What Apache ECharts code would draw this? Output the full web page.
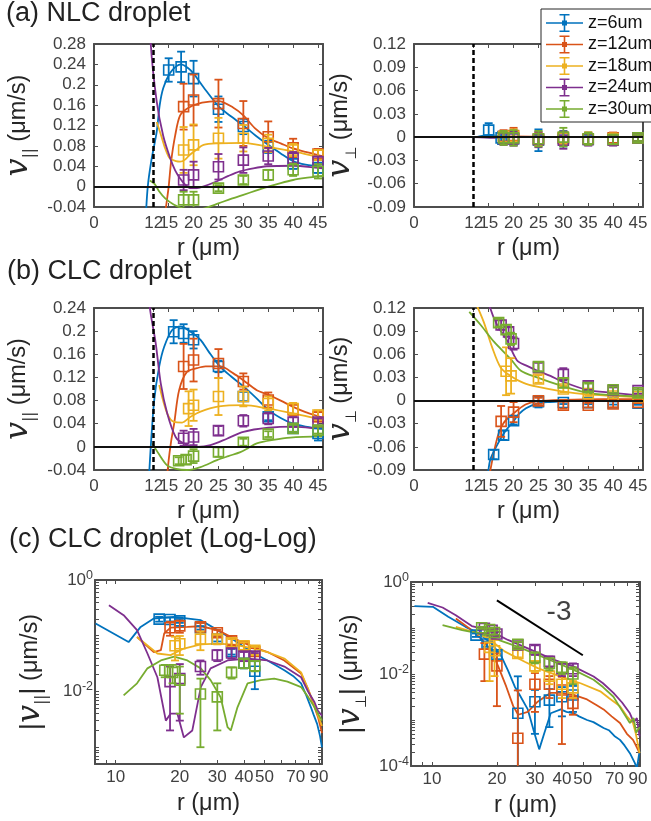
<!DOCTYPE html>
<html><head><meta charset="utf-8">
<script src="https://cdn.jsdelivr.net/npm/echarts@6/dist/echarts.min.js"></script>
<style>html,body{margin:0;padding:0;background:#fff}#c{width:651px;height:821px}</style>
</head><body><div id="c"></div>
<script>
// ---------------- DATA ----------------
const seriesNames = ['z=6um','z=12um','z=18um','z=24um','z=30um'];
const seriesColors = ['#0072BD','#D95319','#EDB120','#7E2F8E','#77AC30'];
const dropletRadius = 12;

// tick labels
const linXTicks = [0,12,15,20,25,30,35,40,45];
const parTicksA = [-0.04,0,0.04,0.08,0.12,0.16,0.2,0.24,0.28];
const parTicksB = [-0.04,0,0.04,0.08,0.12,0.16,0.2,0.24];
const perpTicks = [-0.09,-0.06,-0.03,0,0.03,0.06,0.09,0.12];
const logXLabels = [10,20,30,40,50,70,90];
const logXTicks = [9,10,20,30,40,50,60,70,80,90];
const logYLabelsL = [0.01,1];
const logYLabelsR = [0.0001,0.01,1];

// (a) NLC droplet, v_par measured points (r, value, error) per z
const nlcParR = [[15,17.5,20,25,30,35,40,45],[18,20,25,30,35,40,45],[18,20,25,30,35,40,45],[18,20,25,30,35,40,45],[18,20,25,30,35,40,45]];
const nlcParV = [
  [0.229,0.235,0.212,0.152,0.118,0.078,0.045,0.037],
  [0.157,0.170,0.163,0.124,0.098,0.076,0.064],
  [0.072,0.082,0.095,0.095,0.085,0.072,0.062],
  [0.013,0.023,0.039,0.052,0.060,0.056,0.049],
  [-0.026,-0.026,-0.003,0.013,0.023,0.033,0.030]];
const nlcParE = [
  [0.023,0.030,0.035,0.025,0.015,0.012,0.010,0.010],
  [0.045,0.050,0.047,0.044,0.030,0.018,0.010],
  [0.045,0.040,0.040,0.026,0.017,0.012,0.010],
  [0.020,0.026,0.025,0.025,0.016,0.012,0.010],
  [0.016,0.016,0.006,0.008,0.010,0.012,0.014]];
// (a) NLC v_perp
const nlcPerpR = nlcParR;
const nlcPerpV = [
  [0.009,-0.001,-0.002,-0.004,-0.002,-0.003,-0.002,-0.001],
  [0.001,0.002,-0.002,-0.001,-0.002,-0.001,-0.001],
  [0.000,0.001,-0.003,-0.001,-0.002,-0.002,-0.001],
  [-0.002,-0.002,-0.003,-0.004,-0.003,-0.004,-0.001],
  [-0.001,-0.001,-0.002,0.000,-0.002,-0.003,-0.001]];
const nlcPerpE = [
  [0.009,0.008,0.008,0.014,0.010,0.006,0.006,0.004],
  [0.008,0.010,0.008,0.008,0.008,0.007,0.004],
  [0.008,0.009,0.008,0.008,0.008,0.007,0.004],
  [0.008,0.009,0.010,0.011,0.008,0.007,0.004],
  [0.009,0.010,0.010,0.012,0.008,0.006,0.004]];
// (b) CLC droplet v_par
const clcParR = [[16,18,20,25,30,35,40,45],[18,20,25,30,35,40,45],[19,20,25,30,35,40,45],[18,20,25,30,35,40,45],[17,18.5,20,25,30,35,40,45]];
const clcParV = [
  [0.199,0.196,0.185,0.139,0.087,0.052,0.032,0.023],
  [0.139,0.150,0.144,0.113,0.081,0.064,0.052],
  [0.066,0.072,0.087,0.087,0.075,0.066,0.055],
  [0.015,0.017,0.028,0.045,0.049,0.043,0.043],
  [-0.024,-0.022,-0.016,-0.009,0.008,0.022,0.032,0.029]];
const clcParE = [
  [0.020,0.016,0.015,0.010,0.008,0.006,0.006,0.012],
  [0.039,0.037,0.025,0.014,0.013,0.010,0.008],
  [0.030,0.027,0.032,0.017,0.012,0.010,0.008],
  [0.013,0.014,0.008,0.010,0.010,0.008,0.006],
  [0.006,0.008,0.012,0.008,0.006,0.005,0.006,0.006]];
// (b) CLC droplet v_perp
const clcPerpR = [[16,18,20,25,30,35,40,45],[17.5,20,25,30,35,40,45],[18.5,19.5,25,30,35,40,45],[17.5,19,20,25,30,35,40,45],[17,18.5,19.5,25,30,35,40,45]];
const clcPerpV = [
  [-0.070,-0.045,-0.026,-0.0014,-0.0025,-0.0027,-0.0032,-0.0035],
  [-0.027,-0.015,-0.0004,-0.006,-0.006,-0.0045,-0.0023],
  [0.038,0.032,0.028,0.015,0.009,0.006,0.005],
  [0.098,0.089,0.074,0.043,0.034,0.019,0.013,0.013],
  [0.101,0.092,0.080,0.044,0.023,0.017,0.014,0.010]];
const clcPerpE = [
  [0.006,0.006,0.005,0.0075,0.002,0.002,0.002,0.002],
  [0.020,0.013,0.004,0.0045,0.003,0.0042,0.001],
  [0.031,0.023,0.005,0.004,0.003,0.003,0.002],
  [0.006,0.006,0.008,0.006,0.008,0.005,0.004,0.004],
  [0.005,0.006,0.008,0.006,0.006,0.005,0.004,0.004]];

// simulation curves [r, v]
const nlcParSim = [
  [[10.4,-0.06],[10.8,0],[11.5,0.05],[12.6,0.108],[13.2,0.16],[13.9,0.193],[15.2,0.222],[16.5,0.236],[17.5,0.24],[19,0.232],[20,0.222],[22,0.195],[25,0.158],[27.5,0.138],[30,0.12],[32.5,0.1],[35,0.082],[37.5,0.065],[40,0.05],[42.5,0.043],[45,0.04],[46,0.038]],
  [[14.2,-0.06],[14.6,-0.03],[15,0],[15.5,0.05],[16.3,0.1],[17.3,0.14],[19,0.155],[21.7,0.165],[25,0.168],[28,0.155],[30,0.14],[32.3,0.115],[35,0.095],[37.5,0.085],[40,0.075],[42.5,0.068],[45,0.062],[46,0.06]],
  [[12.6,0.127],[13.5,0.1],[14.3,0.075],[15.2,0.056],[16.5,0.05],[17.3,0.049],[18.3,0.053],[19.2,0.062],[20.5,0.072],[22,0.082],[25,0.085],[30,0.086],[35,0.078],[40,0.069],[45,0.059],[46,0.058]],
  [[11.1,0.4],[11.4,0.28],[12.6,0.167],[13.9,0.1],[15.3,0.056],[16.3,0.032],[17.3,0.016],[18.3,0.004],[19.3,-0.003],[20.5,-0.003],[21.9,0],[24.6,0.01],[27,0.021],[29.3,0.03],[32,0.036],[34.7,0.04],[40,0.041],[45,0.037],[46,0.036]],
  [[11.2,0.012],[12.2,0.005],[13,-0.008],[14.3,-0.023],[16,-0.035],[17.7,-0.042],[20,-0.045],[22,-0.043],[25,-0.033],[27.5,-0.024],[30,-0.016],[32.5,-0.008],[35,0],[37.5,0.007],[40,0.013],[42.5,0.017],[45,0.02],[46,0.021]]];
const nlcPerpSim = [
  [[12.5,0],[14,0.002],[15.5,0.003],[17,0.001],[20,0],[30,0],[46,0]],
  [[15,0],[17,0.001],[20,0.001],[30,0],[46,0]],
  [[13,0],[16,0.001],[20,0],[46,0]],
  [[12,0],[16,-0.001],[20,0],[46,0]],
  [[12,0],[16,0.001],[20,0],[46,0]]];
const clcParSim = [
  [[11,-0.06],[11.4,0],[12.1,0.081],[13.1,0.139],[14.1,0.173],[15.7,0.202],[17.4,0.208],[19.4,0.199],[21.4,0.185],[23,0.165],[25.1,0.141],[27.5,0.122],[30.1,0.104],[32.5,0.085],[35,0.064],[37.5,0.05],[40,0.04],[42.5,0.035],[45,0.032],[46,0.031]],
  [[14.6,-0.06],[15,-0.023],[15.5,0.01],[16.1,0.04],[17.1,0.098],[18.7,0.13],[20.7,0.136],[22.4,0.139],[25.4,0.139],[28,0.127],[30,0.115],[32.7,0.098],[35,0.09],[37.5,0.08],[40,0.069],[42.5,0.06],[45.4,0.052],[46,0.05]],
  [[13.1,0.107],[14.7,0.058],[16.1,0.043],[17.7,0.042],[19.4,0.052],[21.4,0.061],[25.1,0.07],[30.1,0.072],[35,0.066],[40,0.058],[45,0.049],[46,0.048]],
  [[10.9,0.3],[11.2,0.242],[12.4,0.179],[13.4,0.11],[14.7,0.058],[16.4,0.017],[18,0.006],[20.7,0],[23.4,0.003],[26.7,0.014],[30,0.026],[35,0.033],[40,0.035],[45,0.032],[46,0.032]],
  [[11.7,0.006],[13,-0.012],[14.7,-0.032],[16.5,-0.038],[18.7,-0.04],[21.4,-0.035],[24.7,-0.023],[27,-0.016],[29.4,-0.009],[31,-0.002],[32.7,0.006],[36,0.012],[39.4,0.016],[46,0.018]]];
const clcPerpSim = [
  [[14.8,-0.1],[15.3,-0.077],[16.5,-0.06],[18.3,-0.04],[20.1,-0.026],[21,-0.018],[22.5,-0.01],[24.7,-0.004],[27,-0.002],[30,-0.001],[35,0.001],[46,0.001]],
  [[15.2,-0.095],[16.7,-0.049],[18,-0.029],[20.1,-0.016],[22.4,-0.005],[24.7,-0.001],[30,0.001],[38,0.002],[46,0.002]],
  [[12.5,0.125],[14,0.102],[15.7,0.069],[17.4,0.043],[19.4,0.032],[22,0.023],[24.7,0.018],[29.7,0.012],[34.7,0.008],[40,0.006],[46,0.004]],
  [[14.8,0.14],[15.1,0.124],[16.7,0.098],[18.7,0.078],[20.7,0.052],[22.7,0.045],[24.7,0.039],[27.4,0.032],[29.7,0.025],[34.7,0.014],[40,0.01],[46,0.006]],
  [[11.1,0.115],[13.4,0.098],[16.1,0.076],[19.4,0.054],[21.4,0.039],[24.7,0.03],[29.7,0.019],[34.7,0.01],[40,0.007],[46,0.005]]];
// (c) log-log curves |v|
const clcParLogSim = [
  [[8.05,0.166],[11.5,0.077],[13.1,0.144],[15.1,0.204],[18.8,0.218],[25.1,0.19],[30.1,0.126],[36,0.083],[44.7,0.048],[51.6,0.036],[61.9,0.024],[68,0.019],[74.2,0.014],[78,0.009],[82.5,0.0052],[85,0.0038],[88.3,0.0026],[91,0.0016],[93,0.00099]],
  [[12.6,0.095],[15.1,0.051],[16.3,0.055],[16.9,0.11],[18.1,0.14],[21.7,0.144],[25.1,0.148],[30.1,0.126],[36,0.089],[44.7,0.062],[51.6,0.051],[61.9,0.036],[74.2,0.021],[80,0.011],[85.8,0.0052],[89,0.0035],[93,0.0018]],
  [[12.6,0.095],[15.7,0.048],[18.1,0.045],[20.9,0.059],[25.1,0.07],[30.1,0.072],[36,0.069],[44.7,0.059],[51.6,0.051],[61.9,0.039],[74.2,0.022],[80,0.011],[85.8,0.0056],[89,0.0037],[93,0.0024]],
  [[9.3,0.354],[10.9,0.234],[12.6,0.126],[14.1,0.048],[15.7,0.018],[17.2,0.003],[18.1,0.004],[19.5,0.004],[20.9,0.0015],[22.9,0.002],[25.1,0.012],[27.9,0.026],[33.5,0.036],[41.6,0.039],[51.6,0.036],[61.9,0.028],[74.2,0.018],[80,0.01],[85.8,0.0064],[89,0.0045],[93,0.0037]],
  [[10.9,0.0085],[12.6,0.014],[14.1,0.026],[16.3,0.036],[18.8,0.042],[21.7,0.036],[25.1,0.026],[27.9,0.016],[31.1,0.0079],[33.5,0.0023],[34.7,0.002],[37.3,0.0052],[41.6,0.014],[48,0.016],[55.5,0.017],[64,0.015],[74.2,0.012],[80,0.008],[85.8,0.0052],[89,0.004],[93,0.003]]];
const clcPerpLogSim = [
  [[8.3,0.298],[10.1,0.288],[11.9,0.175],[14.3,0.106],[16.5,0.076],[18.9,0.046],[21,0.024],[22.5,0.012],[24.2,0.0053],[25.5,0.0035],[27.8,0.0017],[29.8,0.00053],[31.4,0.00023],[33.2,0.00053],[35.5,0.0014],[39.5,0.0017],[42,0.0015],[45.4,0.0014],[48,0.0012],[52.3,0.001],[56,0.0009],[62.4,0.00067],[66,0.0006],[70,0.00045],[74.3,0.00037],[78,0.00028],[82.6,0.00019],[86.8,0.00012],[89,0.00009],[91.6,0.00021]],
  [[12.9,0.161],[15.3,0.09],[17.1,0.055],[18.9,0.031],[20.3,0.0145],[22.1,0.0053],[23.8,0.002],[25.1,0.0013],[27.8,0.0015],[30.9,0.0025],[35.5,0.0039],[39.5,0.0039],[45.4,0.0035],[52.3,0.0028],[58,0.0021],[62.4,0.0017],[68,0.0012],[74.3,0.00086],[80,0.0005],[85.4,0.00037],[88,0.00028],[91.6,0.00019]],
  [[12.9,0.106],[15.3,0.083],[18.3,0.059],[21.7,0.031],[26.9,0.0185],[30.9,0.0134],[39.5,0.0088],[48.8,0.0063],[60.2,0.0042],[66,0.003],[74.3,0.002],[80,0.0012],[85.4,0.00086],[88,0.0005],[91.6,0.00019]],
  [[9.56,0.351],[11.2,0.279],[12.9,0.19],[15.3,0.11],[18.3,0.09],[22.5,0.055],[27.8,0.036],[36.8,0.0203],[45.4,0.0145],[56.1,0.0088],[62,0.0063],[69.3,0.0039],[76,0.0024],[82.6,0.0014],[86,0.0009],[89,0.0011],[91.6,0.00044]],
  [[11.2,0.116],[13.8,0.09],[16.5,0.076],[20.3,0.055],[25.1,0.039],[30.9,0.026],[36.8,0.0185],[45.4,0.0123],[56.1,0.0075],[62,0.0052],[69.3,0.0032],[76,0.0016],[82.6,0.00086],[86,0.0011],[88.3,0.00053],[91.6,0.0007]]];
// power-law guide "-3"
const slopeR = [20, 50];
const slopeV = [0.4, 0.0256];
const slopeLabelPos = [38.8, 0.224];

// ---------------- STYLE / BUILD ----------------
const AX = '#4d4d4d', TXT = '#404040', DARK = '#262626', FONT = 'Liberation Sans';

function fmtLin(v){ return v === 0 ? '0' : String(parseFloat(Number(v).toFixed(2))); }
function fmtInt(v){ return String(Math.round(v)); }
function fmtPow(v){ return '{b|10}{s|' + Math.round(Math.log10(v)) + '}'; }

const logMinorY = [];
[-4,-3,-2,-1].forEach(function(e){ for (let k=1;k<=9;k++) logMinorY.push(k*Math.pow(10,e)); });
logMinorY.push(1);

const grids = [
  {left:94, top:44, width:229, height:163},
  {left:414, top:44, width:229, height:163},
  {left:94, top:308, width:229, height:162},
  {left:414, top:308, width:229, height:162},
  {left:95, top:580, width:227, height:184},
  {left:411, top:582, width:229, height:184}
];

const nameRich = {
  v: {fontFamily:'DejaVu Serif', fontStyle:'italic', fontSize:32, color:DARK, lineHeight:38},
  sub: {fontFamily:'DejaVu Sans', fontSize:15, color:DARK, verticalAlign:'bottom', lineHeight:24},
  bar: {fontFamily:FONT, fontSize:28, color:DARK, lineHeight:38},
  t: {fontFamily:FONT, fontSize:23.5, color:DARK, lineHeight:38}
};
const parName = '{v|v}{sub|||}{t| (μm/s)}';
const perpName = '{v|v}{sub|⊥}{t| (μm/s)}';
const parNameAbs = '{bar||}{v|v}{sub|||}{bar||}{t| (μm/s)}';
const perpNameAbs = '{bar||}{v|v}{sub|⊥}{bar||}{t| (μm/s)}';

const panels = [
  {x:{type:'value',min:0,max:46,labels:linXTicks,ticks:linXTicks,fmt:fmtLin,margin:8},
   y:{type:'value',min:-0.04,max:0.28,labels:parTicksA,ticks:parTicksA,fmt:fmtLin,margin:8,name:parName,gap:56}},
  {x:{type:'value',min:0,max:46,labels:linXTicks,ticks:linXTicks,fmt:fmtLin,margin:8},
   y:{type:'value',min:-0.09,max:0.12,labels:perpTicks,ticks:perpTicks,fmt:fmtLin,margin:8,name:perpName,gap:54}},
  {x:{type:'value',min:0,max:46,labels:linXTicks,ticks:linXTicks,fmt:fmtLin,margin:8},
   y:{type:'value',min:-0.04,max:0.24,labels:parTicksB,ticks:parTicksB,fmt:fmtLin,margin:8,name:parName,gap:56}},
  {x:{type:'value',min:0,max:46,labels:linXTicks,ticks:linXTicks,fmt:fmtLin,margin:8},
   y:{type:'value',min:-0.09,max:0.12,labels:perpTicks,ticks:perpTicks,fmt:fmtLin,margin:8,name:perpName,gap:54}},
  {x:{type:'log',min:8,max:93,labels:logXLabels,ticks:logXTicks,fmt:fmtInt,margin:5},
   y:{type:'log',min:0.0005,max:1,labels:logYLabelsL,ticks:logMinorY,fmt:fmtPow,margin:2,name:parNameAbs,gap:45}},
  {x:{type:'log',min:8,max:92,labels:logXLabels,ticks:logXTicks,fmt:fmtInt,margin:5},
   y:{type:'log',min:0.0001,max:1,labels:logYLabelsR,ticks:logMinorY,fmt:fmtPow,margin:2,name:perpNameAbs,gap:41}}
];

const labelRich = {
  b: {fontSize:17, fontFamily:FONT, color:TXT, lineHeight:22},
  s: {fontSize:12.5, fontFamily:FONT, color:TXT, verticalAlign:'top', lineHeight:12}
};

const xAxes = [], yAxes = [];
panels.forEach(function(p, g){
  [['x',p.x,'bottom','top'],['y',p.y,'left','right']].forEach(function(d){
    const a = d[1];
    const common = {gridIndex:g, type:a.type, min:a.min, max:a.max, splitLine:{show:false}, splitArea:{show:false}, minorTick:{show:false}};
    if (a.type === 'log') common.logBase = 10;
    const line = {show:true, onZero:false, lineStyle:{color:AX, width:2}};
    const tick = {show:true, inside:true, length:4, lineStyle:{color:AX, width:1}, customValues:a.ticks};
    const main = Object.assign({}, common, {
      position:d[2], axisLine:line, axisTick:tick,
      axisLabel:{show:true, customValues:a.labels, formatter:a.fmt, margin:a.margin, fontSize:17, color:TXT, fontFamily:FONT, rich:labelRich, hideOverlap:false}
    });
    if (d[0] === 'x') {
      Object.assign(main, {name:'r (μm)', nameLocation:'middle', nameGap:(a.type==='log'?28:30), nameTextStyle:{fontSize:23.5, color:DARK, fontFamily:FONT}});
    } else {
      Object.assign(main, {name:a.name, nameLocation:'middle', nameGap:a.gap, nameTextStyle:{rich:nameRich, fontSize:23.5, color:DARK, fontFamily:FONT}});
    }
    const mirror = Object.assign({}, common, {position:d[3], axisLine:line, axisTick:tick, axisLabel:{show:false}});
    (d[0] === 'x' ? xAxes : yAxes).push(main, mirror);
  });
});

function errRender(isLog){
  return function(params, api){
    const x = api.value(0), y = api.value(1), e = api.value(2);
    const cs = params.coordSys;
    const c = api.coord([x, y]);
    const pHi = api.coord([x, y + e]);
    const lo = y - e;
    const pLoY = (isLog && lo <= 0) ? cs.y + cs.height + 100 : api.coord([x, lo])[1];
    const color = api.visual('color');
    const st = {stroke:color, lineWidth:1.8, fill:null};
    const top = Math.max(pHi[1], cs.y), bot = Math.min(pLoY, cs.y + cs.height);
    const ch = [];
    if (bot > top) ch.push({type:'line', shape:{x1:c[0], y1:top, x2:c[0], y2:bot}, style:st});
    if (pHi[1] >= cs.y) ch.push({type:'line', shape:{x1:c[0]-4, y1:pHi[1], x2:c[0]+4, y2:pHi[1]}, style:st});
    if (pLoY <= cs.y + cs.height) ch.push({type:'line', shape:{x1:c[0]-4, y1:pLoY, x2:c[0]+4, y2:pLoY}, style:st});
    if (c[1] >= cs.y - 1 && c[1] <= cs.y + cs.height + 1)
      ch.push({type:'rect', shape:{x:c[0]-5, y:c[1]-5, width:10, height:10}, style:{stroke:color, lineWidth:1.6, fill:null}});
    return {type:'group', children:ch};
  };
}

const series = [];
function addPanel(g, sims, R, V, E, isLog, smooth){
  for (let i=0;i<5;i++){
    series.push({type:'line', name:seriesNames[i], xAxisIndex:2*g, yAxisIndex:2*g, data:sims[i],
      showSymbol:false, symbol:'none', smooth:smooth, clip:true, z:2, silent:true,
      lineStyle:{color:seriesColors[i], width:1.8}, itemStyle:{color:seriesColors[i]}});
  }
  for (let i=0;i<5;i++){
    const d = R[i].map(function(r,k){ return [r, isLog ? Math.abs(V[i][k]) : V[i][k], E[i][k]]; });
    series.push({type:'custom', name:seriesNames[i], xAxisIndex:2*g, yAxisIndex:2*g, data:d,
      dimensions:['x','y','e'], encode:{x:0, y:1}, renderItem:errRender(isLog), z:3, silent:true,
      itemStyle:{color:seriesColors[i]}});
  }
}
addPanel(0, nlcParSim, nlcParR, nlcParV, nlcParE, false, 0.3);
addPanel(1, nlcPerpSim, nlcPerpR, nlcPerpV, nlcPerpE, false, 0.3);
addPanel(2, clcParSim, clcParR, clcParV, clcParE, false, 0.3);
addPanel(3, clcPerpSim, clcPerpR, clcPerpV, clcPerpE, false, 0.3);
addPanel(4, clcParLogSim, clcParR, clcParV, clcParE, true, false);
addPanel(5, clcPerpLogSim, clcPerpR, clcPerpV, clcPerpE, true, false);

// reference lines: droplet radius (dashed) and zero line
[0,1,2,3].forEach(function(g){
  series.push({type:'line', xAxisIndex:2*g, yAxisIndex:2*g, data:[], z:6, silent:true,
    markLine:{symbol:['none','none'], silent:true, animation:false, label:{show:false},
      data:[
        {xAxis:dropletRadius, lineStyle:{type:[5,3], color:'#000', width:2.5}},
        {yAxis:0, lineStyle:{type:'solid', color:'#111', width:2}}
      ]}});
});
// slope guide
series.push({type:'line', xAxisIndex:10, yAxisIndex:10, data:slopeR.map(function(r,k){return [r, slopeV[k]];}),
  showSymbol:false, symbol:'none', z:6, silent:true, lineStyle:{color:'#000', width:2}});
series.push({type:'scatter', xAxisIndex:10, yAxisIndex:10, data:[slopeLabelPos], symbolSize:1, z:6, silent:true,
  itemStyle:{color:'rgba(0,0,0,0)'}, label:{show:true, position:'inside', formatter:'-3', fontSize:28, color:'#111', fontFamily:FONT}});

const legendIcon = 'path://M0,8.2H37V9.8H0Z M17.7,0H19.3V18H17.7Z M13.5,0H23.5V1.6H13.5Z M13.5,16.4H23.5V18H13.5Z M16,6.5H21V11.5H16Z';

const titleStyle = {fontSize:27, fontWeight:'normal', color:'#222', fontFamily:FONT};
const option = {
  animation:false,
  backgroundColor:'#fff',
  textStyle:{fontFamily:FONT},
  title:[
    {text:'(a) NLC droplet', left:6, top:0, padding:0, textStyle:titleStyle},
    {text:'(b) CLC droplet', left:7, top:258, padding:0, textStyle:titleStyle},
    {text:'(c) CLC droplet (Log-Log)', left:9, top:526, padding:0, textStyle:titleStyle}
  ],
  legend:{
    data:seriesNames.map(function(n){ return {name:n, icon:legendIcon}; }),
    orient:'vertical', left:541, top:9, itemWidth:37, itemHeight:18, itemGap:3.5,
    padding:[5,30,4,5], borderColor:'#262626', borderWidth:1, backgroundColor:'#fff',
    selectedMode:false, itemStyle:{borderWidth:0},
    textStyle:{fontSize:18, color:'#111', fontFamily:FONT}, z:20
  },
  grid:grids,
  xAxis:xAxes,
  yAxis:yAxes,
  series:series
};
const chart = echarts.init(document.getElementById('c'), null, {renderer:'canvas'});
chart.setOption(option);
</script></body></html>
